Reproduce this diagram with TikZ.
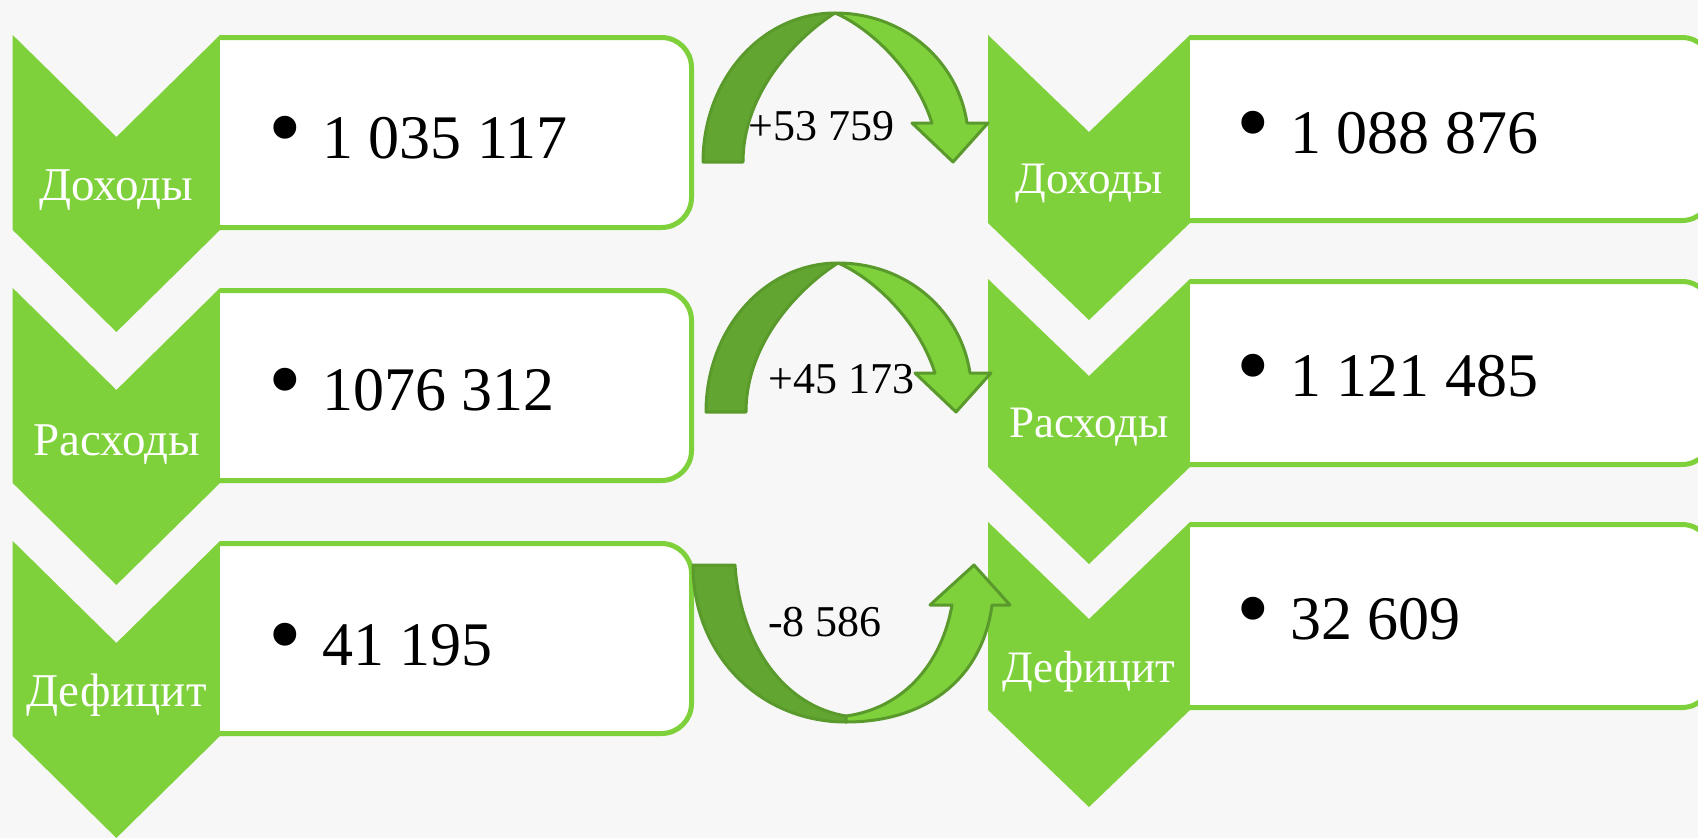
\documentclass[tikz,border=0pt]{standalone}
\usepackage{fontspec}
\setmainfont{Liberation Serif}
\definecolor{chev}{HTML}{7ED13B}
\definecolor{arrdark}{HTML}{62A530}
\definecolor{arrlight}{HTML}{7ED13B}
\definecolor{arrline}{HTML}{5A9A2C}
\definecolor{bgc}{HTML}{F7F7F7}
\begin{document}
\begin{tikzpicture}[x=1pt,y=-1pt,
  boxstyle/.style={draw=chev,line width=5pt,fill=white,rounded corners=30pt},
  labL/.style={text=white,font=\fontsize{47}{50}\selectfont,anchor=base,inner sep=0pt},
  labR/.style={text=white,font=\fontsize{45}{48}\selectfont,anchor=base,inner sep=0pt},
  num/.style={font=\fontsize{62}{64}\selectfont,anchor=base west,inner sep=0pt},
  bul/.style={font=\fontsize{96}{98}\selectfont,anchor=base,inner sep=0pt},
  alab/.style={font=\fontsize{44}{46}\selectfont,anchor=base west,inner sep=0pt},
  darkpart/.style={fill=arrdark,draw=arrline,line width=3pt,line join=round},
  lightpart/.style={fill=arrlight,draw=arrline,line width=3pt,line join=round}]
\useasboundingbox (0,0) rectangle (1698,838);
\clip (0,0) rectangle (1698,838);
\fill[bgc] (0,0) rectangle (1698,838);
% left column chevrons and boxes
\foreach \T in {35,288,541}{
  \fill[chev] (12.7,\T) -- (116.4,\T+102) -- (220,\T) -- (220,\T+195) -- (116.4,\T+297) -- (12.7,\T+195) -- cycle;
  \draw[boxstyle] (220,\T+2.5) -- (691.5,\T+2.5) -- (691.5,\T+192.5) -- (220,\T+192.5);
}
% right column chevrons and boxes
\foreach \T in {35,279,522}{
  \fill[chev] (988,\T) -- (1089,\T+97) -- (1190,\T) -- (1190,\T+188) -- (1089,\T+285) -- (988,\T+188) -- cycle;
  \draw[boxstyle] (1190,\T+2.5) -- (1712,\T+2.5) -- (1712,\T+185.5) -- (1190,\T+185.5);
}
% labels
\node[labL] (ld) at (116.4,200) {Доходы};
\node[labL] (lr) at (116.4,455) {Расходы};
\node[labL] (lf) at (116.4,706) {Дефицит};
\node[labR] (rd) at (1089,193) {Доходы};
\node[labR] (rr) at (1089,437) {Расходы};
\node[labR] (rf) at (1089,682) {Дефицит};
% bullets and numbers
\node[bul] (bl1) at (285,159) {•};
\node[num] (nl1) at (322,158) {1 035 117};
\node[bul] (bl2) at (285,411) {•};
\node[num] (nl2) at (322,410) {1076 312};
\node[bul] (bl3) at (285,666) {•};
\node[num] (nl3) at (322,665) {41 195};
\node[bul] (br1) at (1253,154) {•};
\node[num] (nr1) at (1290,153) {1 088 876};
\node[bul] (br2) at (1253,397) {•};
\node[num] (nr2) at (1290,396) {1 121 485};
\node[bul] (br3) at (1253,640) {•};
\node[num] (nr3) at (1290,639) {32 609};
% curved arrows (top two)
\foreach \dx/\dy in {0/0,3/250}{
\begin{scope}[shift={(\dx,\dy)}]
  \draw[darkpart] (703,162) .. controls (703,80) and (761,13) .. (835,13)
     .. controls (800,35) and (743,90) .. (743,162) -- cycle;
  \draw[lightpart] (835,13) .. controls (905,13) and (958,62) .. (967,123)
     -- (988,123) -- (953,162) -- (912,123) -- (932,123)
     .. controls (915,70) and (870,28) .. (835,13) -- cycle;
\end{scope}}
% curved up arrow (bottom)
\draw[darkpart] (693,565) -- (735,565) .. controls (740,640) and (780,705) .. (846,716)
   -- (846,722) .. controls (760,722) and (693,655) .. (693,565) -- cycle;
\draw[lightpart] (846,722) .. controls (925,722) and (982,680) .. (992,605)
   -- (1010,605) -- (974,565) -- (930,605) -- (952,605)
   .. controls (942,662) and (905,708) .. (846,716) -- cycle;
% arrow labels
\node[alab] (a1) at (748,140) {+53 759};
\node[alab] (a2) at (768,393) {+45 173};
\node[alab] (a3) at (768,636) {-8 586};
\end{tikzpicture}
\end{document}
